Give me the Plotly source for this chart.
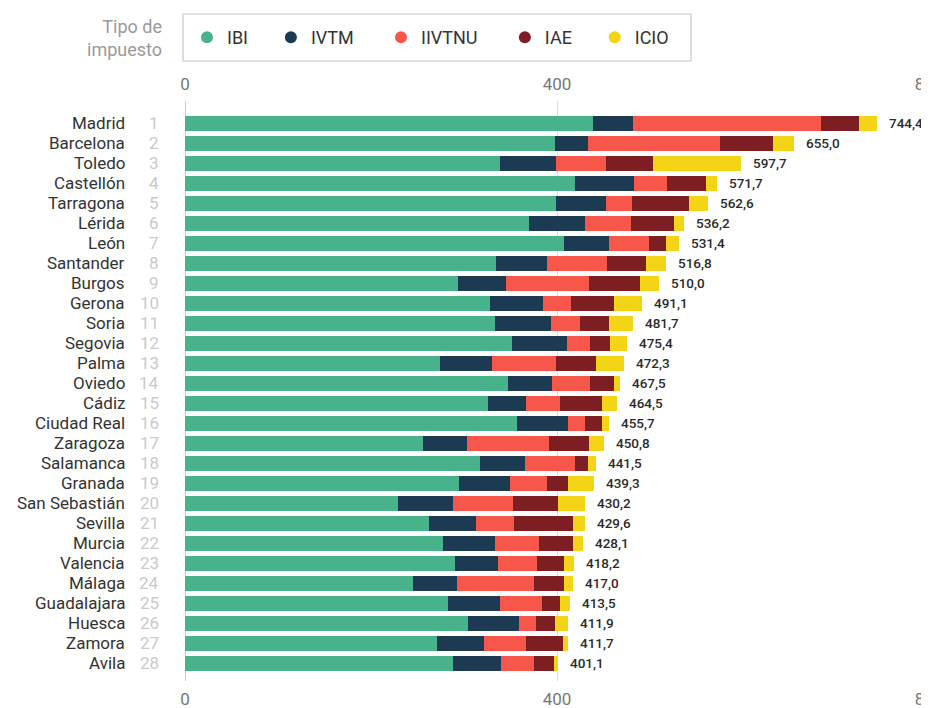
import plotly.graph_objects as go

cities = ["Madrid", "Barcelona", "Toledo", "Castellón", "Tarragona", "Lérida", "León",
          "Santander", "Burgos", "Gerona", "Soria", "Segovia", "Palma", "Oviedo", "Cádiz",
          "Ciudad Real", "Zaragoza", "Salamanca", "Granada", "San Sebastián", "Sevilla",
          "Murcia", "Valencia", "Málaga", "Guadalajara", "Huesca", "Zamora", "Avila"]
ranks = ["1", "2", "3", "4", "5", "6", "7", "8", "9", "10", "11", "12", "13", "14",
         "15", "16", "17", "18", "19", "20", "21", "22", "23", "24", "25", "26", "27", "28"]

ibi = [439.1, 397.7, 339.2, 419.8, 398.8, 369.7, 407.5, 334.8, 293.4, 327.9, 333.0, 351.9,
       273.8, 347.5, 326.1, 357.3, 256.3, 317.7, 294.9, 229.4, 262.2, 277.8, 290.5, 245.1,
       282.5, 304.3, 271.2, 288.3]
ivtm = [42.1, 35.2, 59.6, 62.9, 54.1, 60.7, 48.7, 54.9, 51.6, 57.1, 60.7, 58.9, 55.9, 47.3,
        40.7, 54.2, 47.3, 48.4, 54.1, 58.9, 50.5, 55.6, 46.1, 47.2, 56.7, 55.2, 50.2, 52.0]
iivtnu = [202.4, 142.8, 53.7, 35.6, 27.6, 48.7, 43.2, 63.9, 89.0, 30.1, 30.9, 24.7, 69.1,
          40.7, 36.0, 18.9, 87.9, 53.4, 40.7, 64.7, 41.0, 47.6, 41.5, 82.5, 44.7, 17.5,
          45.0, 34.9]
iae = [40.7, 56.3, 50.5, 41.8, 61.4, 46.5, 17.4, 42.5, 55.6, 45.8, 31.2, 21.4, 43.2, 25.4,
       45.4, 18.2, 42.5, 13.4, 22.5, 47.6, 63.2, 35.9, 29.0, 32.3, 19.2, 20.7, 39.6, 21.8]
icio = [20.1, 23.0, 94.7, 11.6, 20.7, 10.6, 14.6, 20.7, 20.4, 30.2, 25.9, 18.5, 30.3, 6.6,
        16.3, 7.1, 16.8, 8.6, 27.1, 29.6, 12.7, 11.2, 11.1, 9.9, 10.4, 14.2, 5.7, 3.9]
totals = [744.4, 655.0, 597.7, 571.7, 562.6, 536.2, 531.4, 516.8, 510.0, 491.1, 481.7,
          475.4, 472.3, 467.5, 464.5, 455.7, 450.8, 441.5, 439.3, 430.2, 429.6, 428.1,
          418.2, 417.0, 413.5, 411.9, 411.7, 401.1]

series_names = ["IBI", "IVTM", "IIVTNU", "IAE", "ICIO"]
series_values = [ibi, ivtm, iivtnu, iae, icio]
legend_pad = [4, 5, 5, 4, 0]
colors = ["#48b38b", "#1c3a52", "#f7574a", "#7c1e22", "#f4d416"]
x_ticks = [0, 400, 800]

FONT = "Roboto, Arial, sans-serif"
OFF = 8  # page body margin in the browser
W, H = 929 - OFF, 708 - OFF
# plot area in absolute page pixels
PL, PR, PT, PB = 185, 929, 101, 681
ML, MR, MT, MB = PL - OFF, OFF + W - PR, PT - OFF, OFF + H - PB
PW = W - ML - MR
PH = H - MT - MB


def ax(px):
    return (px - PL) / PW


def ay(py):
    return 1 + (PT - py) / PH


fig = go.Figure()

for name, vals, col in zip(series_names, series_values, colors):
    fig.add_trace(go.Bar(
        x=vals, y=cities, orientation="h", name=name,
        marker=dict(color=col, line=dict(width=0)),
        showlegend=False, hoverinfo="x+y+name",
    ))

for name, col, pad in zip(series_names, colors, legend_pad):
    fig.add_trace(go.Scatter(
        x=[None], y=[None], mode="markers", name=name + "\u00a0" * pad,
        marker=dict(color=col, size=13, symbol="circle"),
    ))

# invisible trace carrying the top axis
fig.add_trace(go.Scatter(
    x=totals, y=cities, xaxis="x2", mode="markers",
    marker=dict(opacity=0), showlegend=False, hoverinfo="skip",
))

annotations = []
for city, rank, tot in zip(cities, ranks, totals):
    annotations.append(dict(
        x=ax(127), xref="paper", y=city, yref="y",
        text=city, showarrow=False, xanchor="right", yanchor="middle",
        font=dict(family=FONT, size=17, color="#333333"),
    ))
    annotations.append(dict(
        x=ax(161), xref="paper", y=city, yref="y",
        text=rank, showarrow=False, xanchor="right", yanchor="middle",
        font=dict(family=FONT, size=17, color="#cacaca"),
    ))
    annotations.append(dict(
        x=tot, xref="x", y=city, yref="y",
        text=f"{tot:.1f}".replace(".", ","), showarrow=False,
        xanchor="left", yanchor="middle", xshift=10,
        font=dict(family=FONT, size=13.5, color="#2b2b2b", weight=500),
    ))

annotations.append(dict(
    x=ax(164), xref="paper", y=ay(38), yref="paper",
    text="Tipo de<br>impuesto", showarrow=False, xanchor="right", yanchor="middle",
    align="right", font=dict(family=FONT, size=18, color="#9a9a9a"),
))

shapes = [dict(
    type="rect", xref="paper", yref="paper",
    x0=ax(183), x1=ax(691), y0=ay(61), y1=ay(14),
    line=dict(color="#c8c8c8", width=1.2), fillcolor="rgba(0,0,0,0)", layer="above",
)]

axis_common = dict(
    range=[0, 800], tickvals=x_ticks, ticktext=[str(t) for t in x_ticks],
    tickfont=dict(family=FONT, size=17, color="#777777"),
    showline=False, ticks="outside", tickcolor="rgba(0,0,0,0)", ticklen=3,
    ticklabeloverflow="allow",
    fixedrange=True, automargin=False,
)

fig.update_layout(
    width=W, height=H,
    margin=dict(l=ML, r=MR, t=MT, b=MB, pad=0, autoexpand=False),
    paper_bgcolor="white", plot_bgcolor="white",
    barmode="stack", bargap=0.27,
    font=dict(family=FONT, color="#333333"),
    xaxis=dict(**axis_common, side="bottom", showgrid=True, gridcolor="#dddddd",
               gridwidth=1, zeroline=True, zerolinecolor="#cccccc", zerolinewidth=1),
    xaxis2=dict(**axis_common, side="top", overlaying="x", anchor="y",
                showgrid=False, zeroline=False),
    yaxis=dict(range=[27.885, -1.115], showticklabels=False, showgrid=False,
               zeroline=False, ticks="", fixedrange=True, automargin=False),
    legend=dict(
        orientation="h", x=ax(187), xanchor="left",
        y=ay(19), yanchor="top", traceorder="normal",
        borderwidth=0, bgcolor="rgba(0,0,0,0)",
        font=dict(family=FONT, size=18, color="#333333"),
        itemsizing="constant",
    ),
    shapes=shapes,
    annotations=annotations,
)

fig.write_html("out.html")
